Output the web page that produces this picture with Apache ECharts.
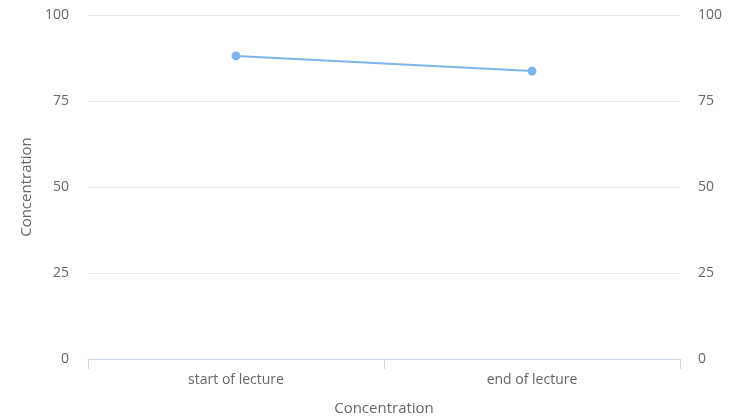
<!DOCTYPE html>
<html>
<head>
<meta charset="utf-8">
<script src="https://cdn.jsdelivr.net/npm/echarts@6/dist/echarts.min.js"></script>
<style>
    html, body { margin: 0; padding: 0; background: #fff; }
    #chart { width: 731px; height: 418px; }
</style>
</head>
<body>
<div id="chart"></div>
<script>
const categories = ['start of lecture', 'end of lecture'];
const concentration = [88.1, 83.7];
const yTicks = [0, 25, 50, 75, 100];

const fontFamily = '"Open Sans", "DejaVu Sans", sans-serif';
const chart = echarts.init(document.getElementById('chart'));

const labelStyle = {
    color: '#666',
    fontSize: 14,
    fontFamily: fontFamily,
};

chart.setOption({
    animation: false,
    grid: {
        left: 88,
        right: 51,
        top: 15,
        bottom: 59,
        outerBoundsMode: 'none',
        containLabel: false,
    },
    xAxis: {
        type: 'category',
        data: categories,
        boundaryGap: true,
        name: 'Concentration',
        nameLocation: 'middle',
        nameGap: 42,
        nameTextStyle: { color: '#666', fontSize: 15, fontFamily: fontFamily },
        axisLine: { lineStyle: { color: '#ccd6eb', width: 1 } },
        axisTick: { show: true, length: 10, lineStyle: { color: '#ccd6eb' } },
        axisLabel: Object.assign({ margin: 14 }, labelStyle),
    },
    yAxis: [
        {
            type: 'value',
            min: yTicks[0],
            max: yTicks[yTicks.length - 1],
            interval: 25,
            name: 'Concentration',
            nameLocation: 'middle',
            nameGap: 54,
            nameRotate: 90,
            nameTextStyle: { color: '#666', fontSize: 15, fontFamily: fontFamily },
            axisLine: { show: false },
            axisTick: { show: false },
            axisLabel: Object.assign({ margin: 19 }, labelStyle),
            splitLine: { lineStyle: { color: '#e6e6e6', width: 1 } },
        },
        {
            type: 'value',
            position: 'right',
            min: yTicks[0],
            max: yTicks[yTicks.length - 1],
            interval: 25,
            axisLine: { show: false },
            axisTick: { show: false },
            axisLabel: Object.assign({ margin: 18 }, labelStyle),
            splitLine: { show: false },
        }
    ],
    series: [
        {
            type: 'line',
            yAxisIndex: 0,
            data: concentration,
            symbol: 'circle',
            symbolSize: 9,
            lineStyle: { color: '#7cb5ec', width: 2 },
            itemStyle: { color: '#7cb5ec' },
        }
    ],
});
</script>
</body>
</html>
